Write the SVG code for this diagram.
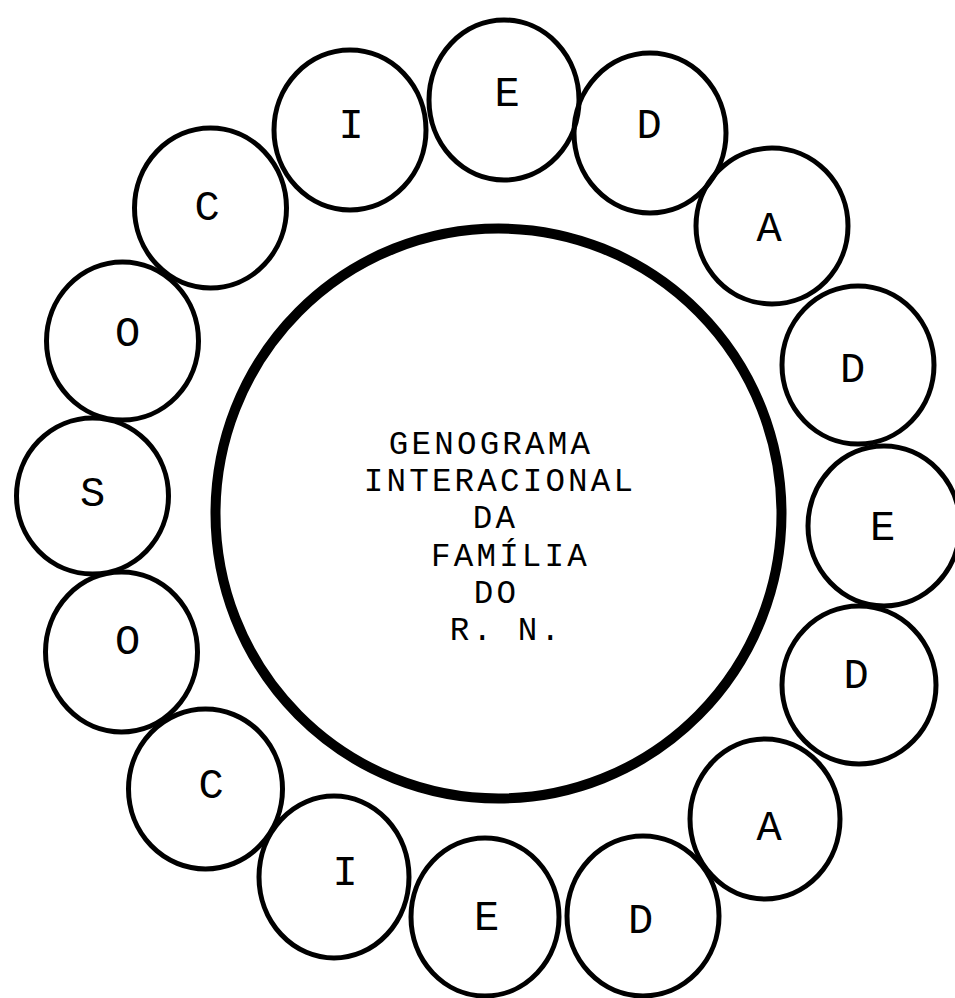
<svg xmlns="http://www.w3.org/2000/svg" width="955" height="998" viewBox="0 0 955 998">
<style>
.c{fill:none;stroke:#000;stroke-width:5}
.big{fill:none;stroke:#000;stroke-width:10}
.l{font-family:"Liberation Mono","DejaVu Sans Mono",monospace;font-size:42px;fill:#000;text-anchor:middle}
.t{font-family:"Liberation Mono","DejaVu Sans Mono",monospace;font-size:32.5px;letter-spacing:3.2px;fill:#000;text-anchor:middle}
</style>
<rect width="955" height="998" fill="#fff"/>
<g id="center">
<ellipse class="big" cx="498.5" cy="513.5" rx="283" ry="285"/>
<text class="t" x="491" y="454">GENOGRAMA</text>
<text class="t" x="500" y="491.2">INTERACIONAL</text>
<text class="t" x="495.5" y="528.4">DA</text>
<text class="t" x="510.5" y="565.6">FAMÍLIA</text>
<text class="t" x="496.5" y="602.8">DO</text>
<text class="t" x="506.5" y="640">R. N.</text>
</g>
<g id="n1"><ellipse class="c" cx="504" cy="100" rx="75" ry="80"/><text class="l" x="507" y="106">E</text></g>
<g id="n2"><ellipse class="c" cx="650" cy="133" rx="76" ry="80"/><text class="l" x="649" y="138">D</text></g>
<g id="n3"><ellipse class="c" cx="350" cy="130" rx="76" ry="80"/><text class="l" x="351" y="138">I</text></g>
<g id="n4"><ellipse class="c" cx="210.5" cy="208" rx="76" ry="80"/><text class="l" x="207" y="220">C</text></g>
<g id="n5"><ellipse class="c" cx="772" cy="226" rx="76" ry="78"/><text class="l" x="769" y="241">A</text></g>
<g id="n6"><ellipse class="c" cx="122.5" cy="341" rx="76" ry="79"/><text class="l" x="127.5" y="346">O</text></g>
<g id="n7"><ellipse class="c" cx="858" cy="365" rx="76" ry="79"/><text class="l" x="852.5" y="382">D</text></g>
<g id="n8"><ellipse class="c" cx="92.5" cy="496" rx="76" ry="78"/><text class="l" x="92.5" y="506">S</text></g>
<g id="n9"><ellipse class="c" cx="884" cy="526" rx="76" ry="80"/><text class="l" x="882.5" y="540">E</text></g>
<g id="n10"><ellipse class="c" cx="121.5" cy="652" rx="76" ry="80"/><text class="l" x="127.5" y="654">O</text></g>
<g id="n11"><ellipse class="c" cx="859" cy="685" rx="77" ry="79"/><text class="l" x="856" y="688">D</text></g>
<g id="n12"><ellipse class="c" cx="205.5" cy="789" rx="77" ry="80"/><text class="l" x="211" y="798">C</text></g>
<g id="n13"><ellipse class="c" cx="765" cy="819" rx="75" ry="80"/><text class="l" x="769" y="840">A</text></g>
<g id="n14"><ellipse class="c" cx="334" cy="877" rx="75" ry="81"/><text class="l" x="345" y="885">I</text></g>
<g id="n15"><ellipse class="c" cx="485" cy="917" rx="74" ry="79"/><text class="l" x="486.5" y="930">E</text></g>
<g id="n16"><ellipse class="c" cx="643" cy="916" rx="76" ry="80"/><text class="l" x="640.5" y="933">D</text></g>
</svg>
